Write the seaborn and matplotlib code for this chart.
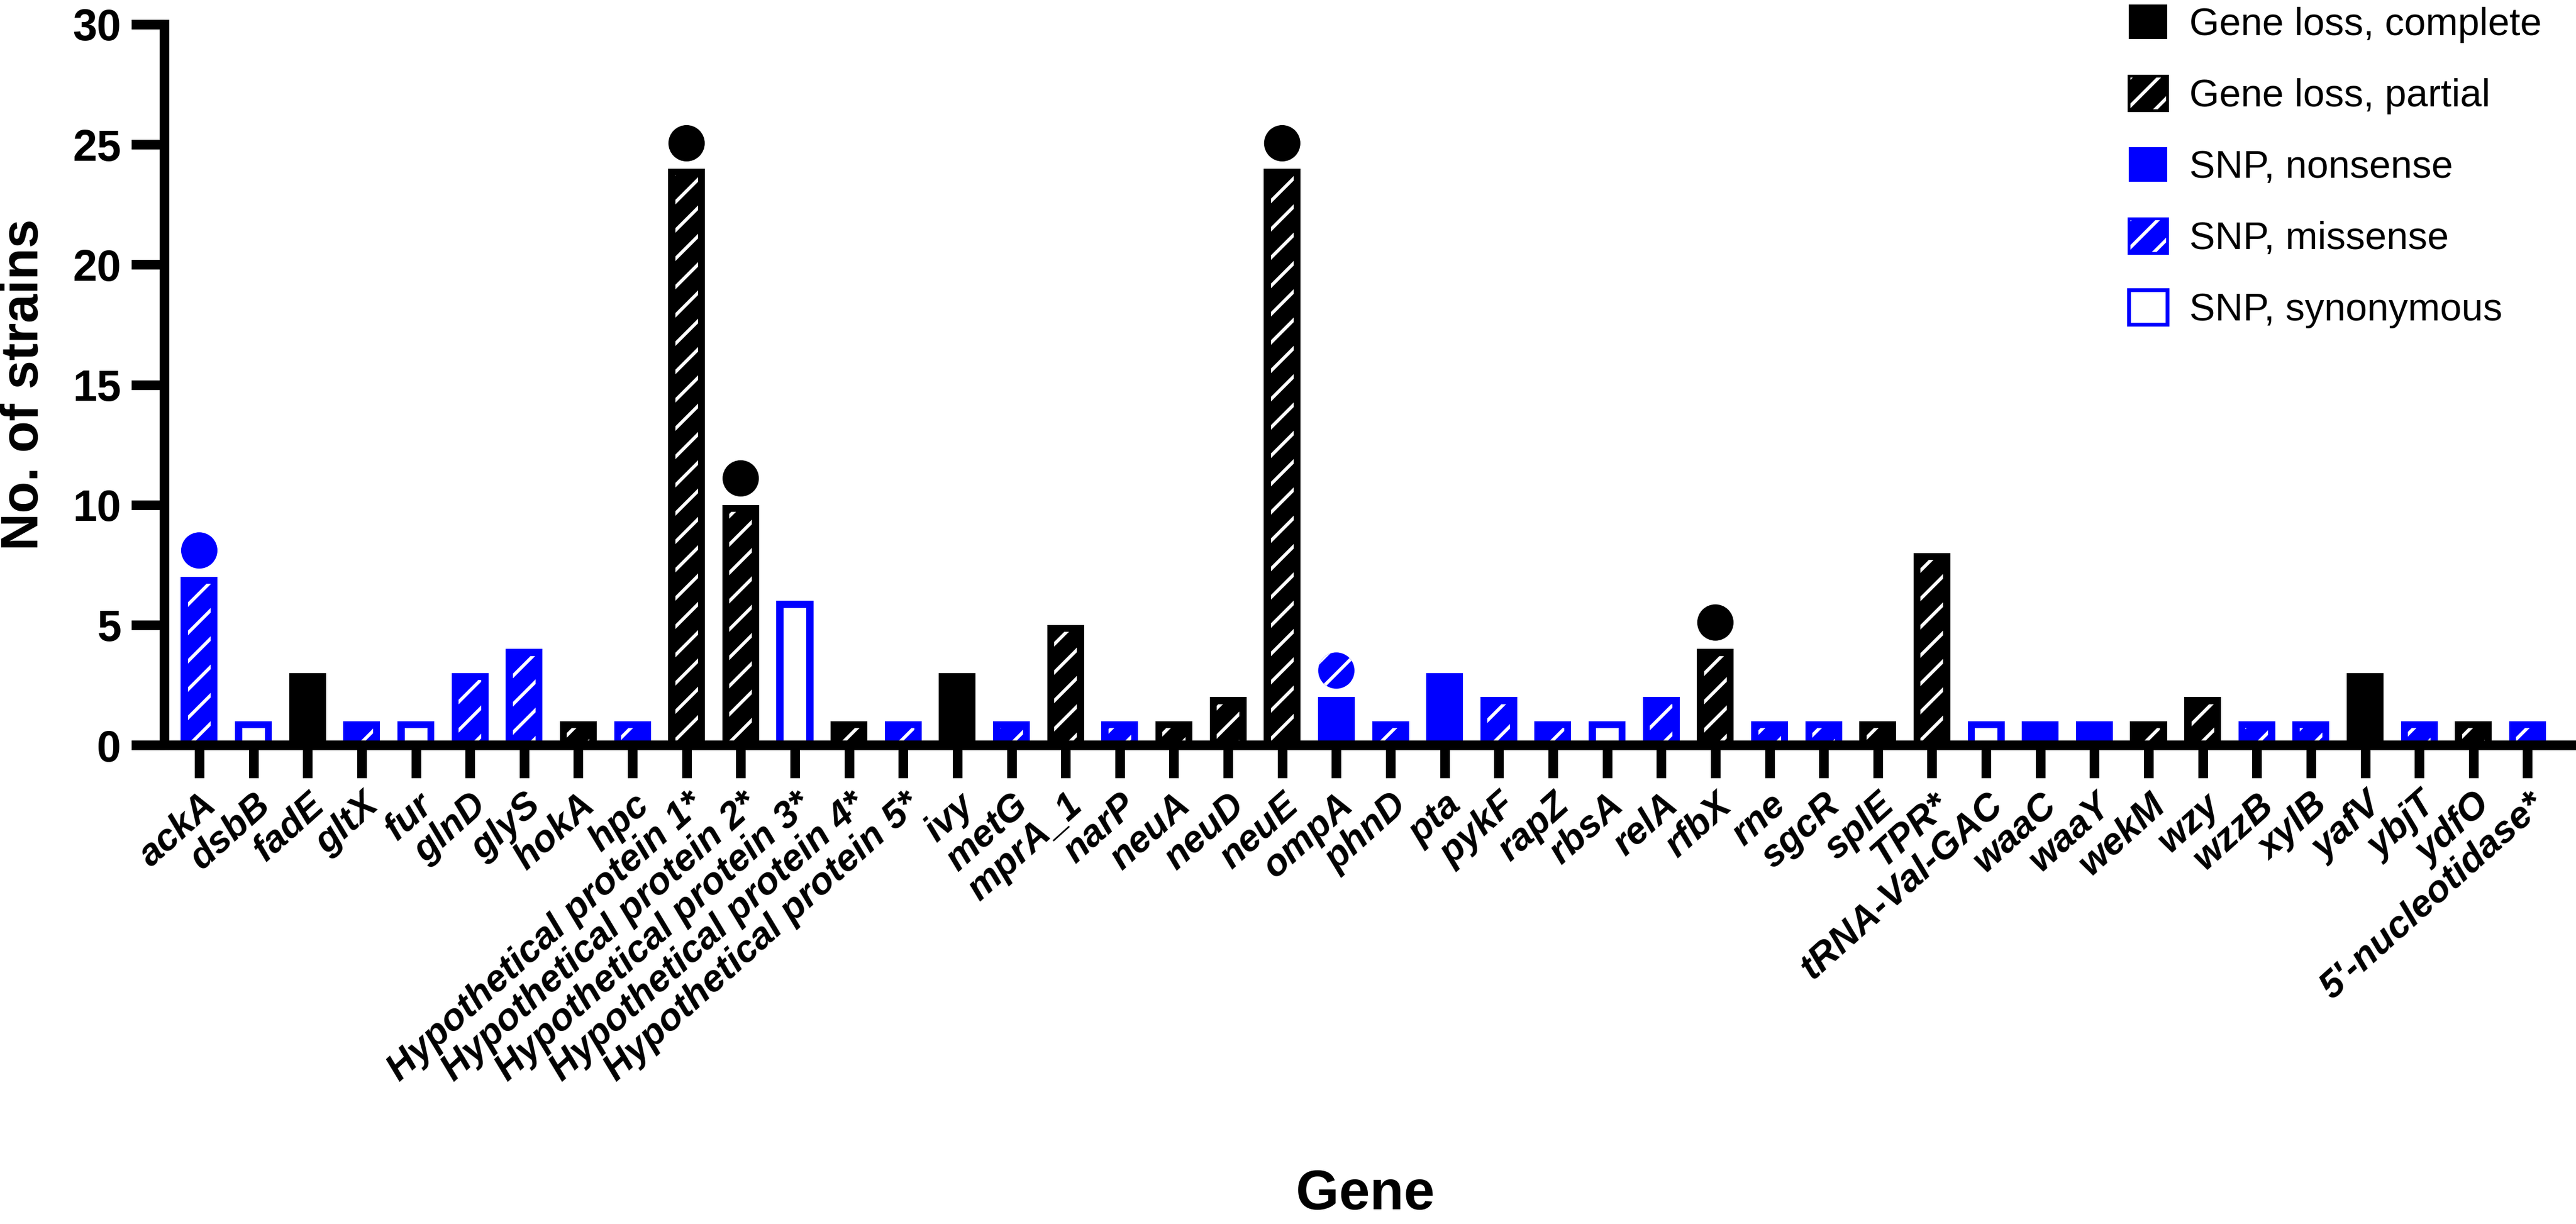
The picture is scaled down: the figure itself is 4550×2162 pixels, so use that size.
import pandas as pd
import seaborn as sns
import matplotlib.pyplot as plt
from matplotlib.patches import Patch, Rectangle
from matplotlib.transforms import ScaledTranslation

# ── data ──────────────────────────────────────────────
genes = ["ackA", "dsbB", "fadE", "gltX", "fur", "glnD", "glyS", "hokA", "hpc",
         "Hypothetical protein 1*", "Hypothetical protein 2*", "Hypothetical protein 3*",
         "Hypothetical protein 4*", "Hypothetical protein 5*", "ivy", "metG", "mprA_1",
         "narP", "neuA", "neuD", "neuE", "ompA", "phnD", "pta", "pykF", "rapZ", "rbsA",
         "relA", "rfbX", "rne", "sgcR", "splE", "TPR*", "tRNA-Val-GAC", "waaC", "waaY",
         "wekM", "wzy", "wzzB", "xylB", "yafV", "ybjT", "ydfO", "5'-nucleotidase*"]
counts = [7, 1, 3, 1, 1, 3, 4, 1, 1,
          24, 10, 6, 1, 1, 3, 1, 5,
          1, 1, 2, 24, 2, 1, 3, 2, 1, 1,
          2, 4, 1, 1, 1, 8, 1, 1, 1,
          1, 2, 1, 1, 3, 1, 1, 1]
kinds = ["missense", "synonymous", "complete", "missense", "synonymous", "missense",
         "missense", "partial", "missense",
         "partial", "partial", "synonymous", "partial", "missense", "complete",
         "missense", "partial",
         "missense", "partial", "partial", "partial", "nonsense", "missense",
         "nonsense", "missense", "missense", "synonymous",
         "missense", "partial", "missense", "missense", "partial", "partial",
         "synonymous", "nonsense", "nonsense",
         "partial", "partial", "missense", "missense", "complete", "missense",
         "partial", "missense"]

kind_order = ["complete", "partial", "nonsense", "missense", "synonymous"]
kind_labels = ["Gene loss, complete", "Gene loss, partial", "SNP, nonsense",
               "SNP, missense", "SNP, synonymous"]

# markers drawn above some bars
dot_genes = ["ackA", "Hypothetical protein 1*", "Hypothetical protein 2*", "neuE",
             "ompA", "rfbX"]
dot_values = [8.1, 25.05, 11.1, 25.05, 3.1, 5.1]
dot_kinds = ["nonsense", "complete", "complete", "complete", "missense", "complete"]

y_ticks = [0, 5, 10, 15, 20, 25, 30]

# ── style ─────────────────────────────────────────────
BLUE = "#0000ff"
BLACK = "#000000"
fill_col = {"complete": BLACK, "partial": BLACK, "nonsense": BLUE,
            "missense": BLUE, "synonymous": BLUE}
hatched = {"partial", "missense"}
LW = 4.1          # axis / tick width (pt)
INSET_PX = 12.5   # inner border of hatched / open bars (px)

sns.set_style("ticks")
plt.rcParams["font.family"] = ["Liberation Sans", "DejaVu Sans"]
plt.rcParams["hatch.linewidth"] = 1.4
for key in ["text.color", "axes.labelcolor", "xtick.color", "ytick.color", "axes.edgecolor"]:
    plt.rcParams[key] = BLACK

df = pd.DataFrame({"gene": genes, "count": counts, "kind": kinds})

W, H = 4550, 2162
fig = plt.figure(figsize=(W / 300, H / 300), dpi=300)
ax = fig.add_axes([290 / W, 1 - 1316 / H, 4251 / W, 1273 / H])

sns.barplot(data=df, x="gene", y="count", hue="kind", order=genes,
            hue_order=kind_order, palette=fill_col, dodge=False, width=0.68,
            saturation=1, linewidth=0, legend=False, ax=ax)

ax.set_xlim(-0.648, len(genes) - 1 + 0.80)
ax.set_ylim(0, 30)

# pixel -> data conversion for the inner borders
p0 = ax.transData.transform((0, 0))
p1 = ax.transData.transform((1, 1))
dx = INSET_PX / (p1[0] - p0[0])
dy = INSET_PX / (p1[1] - p0[1])

for kind, cont in zip(kind_order, ax.containers):
    for bar in cont:
        x0, y0 = bar.get_xy()
        w, h = bar.get_width(), bar.get_height()
        inner = dict(xy=(x0 + dx, y0), width=w - 2 * dx, height=max(h - dy, 0),
                     zorder=bar.get_zorder() + 0.1)
        if kind in hatched:
            ax.add_patch(Rectangle(**inner, facecolor="none", edgecolor="white",
                                   hatch="//", lw=0))
        elif kind == "synonymous":
            ax.add_patch(Rectangle(**inner, facecolor="white", lw=0))

# dots above bars
dot_x = [genes.index(g) for g in dot_genes]
dots = pd.DataFrame({"x": dot_x, "value": dot_values, "kind": dot_kinds})
for kind in ["complete", "nonsense", "missense"]:
    sub = dots[dots["kind"] == kind]
    kw = dict(hatch="//", edgecolor="white") if kind in hatched else dict(edgecolor="none")
    sns.scatterplot(data=sub, x="x", y="value", color=fill_col[kind], s=15.4 ** 2,
                    linewidth=0, ax=ax, clip_on=False, zorder=5, legend=False, **kw)

# ── axes ──────────────────────────────────────────────
ax.set_xlim(-0.648, len(genes) - 1 + 0.80)
ax.set_ylim(0, 30)
ax.set_yticks(y_ticks)
ax.set_yticklabels([str(t) for t in y_ticks], fontsize=18.5, fontweight="bold")
ax.set_xticks(range(len(genes)))
ax.set_xticklabels(genes, fontsize=16, fontweight="bold", fontstyle="italic",
                   rotation=42, ha="right", va="top", rotation_mode="anchor")
shift = ScaledTranslation(3 / 72, 0, fig.dpi_scale_trans)
for lab in ax.get_xticklabels():
    lab.set_transform(lab.get_transform() + shift)
ax.tick_params(axis="both", direction="out", width=LW, length=13.9, color=BLACK,
               labelcolor=BLACK)
ax.tick_params(axis="x", pad=4)
ax.tick_params(axis="y", pad=4.3)
sns.despine(ax=ax)
for side in ["left", "bottom"]:
    ax.spines[side].set_linewidth(LW)
    ax.spines[side].set_color(BLACK)
    ax.spines[side].set_capstyle("projecting")

ax.set_ylabel("No. of strains", fontsize=22, fontweight="bold", color=BLACK)
ax.yaxis.set_label_coords(-0.048, 0.5)
ax.set_xlabel("Gene", fontsize=23.5, fontweight="bold", color=BLACK)
ax.xaxis.set_label_coords(0.499, -0.588)

# ── legend ────────────────────────────────────────────
handles = []
for kind in kind_order:
    if kind in hatched:
        h = (Patch(facecolor=fill_col[kind], lw=0),
             Patch(facecolor="none", edgecolor="white", hatch="//", lw=0),
             Patch(facecolor="none", edgecolor=fill_col[kind], lw=1.2))
    elif kind == "synonymous":
        h = Patch(facecolor="white", edgecolor=BLUE, lw=1.6)
    else:
        h = Patch(facecolor=fill_col[kind], lw=0)
    handles.append(h)

fig.legend(handles, kind_labels, loc="upper left", bbox_to_anchor=(3760 / W, 1 - 8 / H),
           frameon=False, fontsize=16.4, handlelength=1.0, handleheight=1.0,
           handletextpad=0.56, labelspacing=0.85, borderpad=0, borderaxespad=0,
           labelcolor=BLACK)

fig.savefig("out.png", dpi=300)
